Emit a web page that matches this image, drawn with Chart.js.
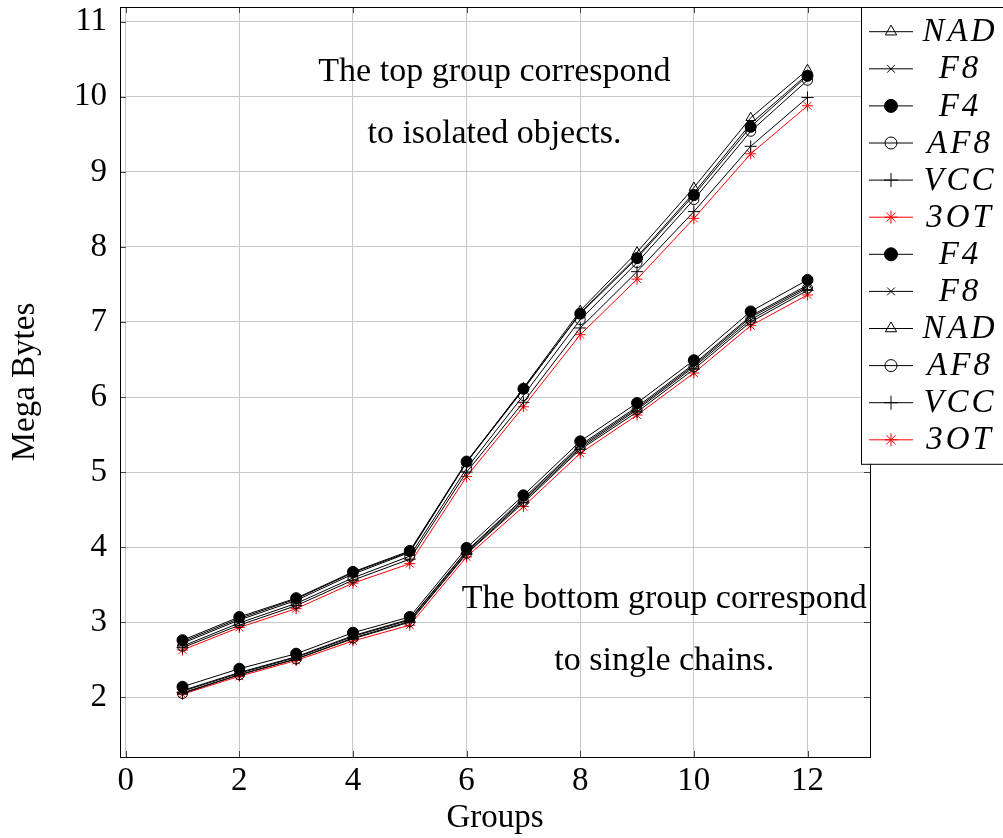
<!DOCTYPE html>
<html>
<head>
<meta charset="utf-8">
<script src="https://cdn.jsdelivr.net/npm/chart.js@4.4.1/dist/chart.umd.min.js"></script>
<style>
  html, body { margin: 0; padding: 0; background: #fff; }
</style>
</head>
<body>
<canvas id="groupsChart" width="1003" height="838"></canvas>
<script>
// x values and ticks
const groups = [1, 2, 3, 4, 5, 6, 7, 8, 9, 10, 11, 12];
const xTicks = [0, 2, 4, 6, 8, 10, 12];
const yTicks = [2, 3, 4, 5, 6, 7, 8, 9, 10, 11];

// top group: isolated objects
const topNAD = [2.72, 3.03, 3.29, 3.64, 3.93, 5.13, 6.12, 7.15, 7.93, 8.79, 9.72, 10.36];
const topF8  = [2.74, 3.05, 3.31, 3.66, 3.94, 5.13, 6.10, 7.12, 7.87, 8.72, 9.64, 10.30];
const topF4  = [2.76, 3.07, 3.32, 3.67, 3.95, 5.14, 6.11, 7.11, 7.85, 8.69, 9.60, 10.28];
const topAF8 = [2.68, 2.99, 3.25, 3.59, 3.88, 5.05, 6.02, 7.03, 7.79, 8.63, 9.54, 10.22];
const topVCC = [2.66, 2.96, 3.22, 3.56, 3.84, 5.00, 5.93, 6.92, 7.67, 8.47, 9.34, 9.99];
const top3OT = [2.63, 2.93, 3.18, 3.52, 3.78, 4.94, 5.87, 6.83, 7.57, 8.38, 9.24, 9.88];

// bottom group: single chains
const botF4  = [2.14, 2.38, 2.58, 2.86, 3.07, 3.99, 4.69, 5.41, 5.92, 6.49, 7.14, 7.56];
const botF8  = [2.09, 2.33, 2.54, 2.82, 3.04, 3.95, 4.65, 5.36, 5.87, 6.44, 7.08, 7.49];
const botNAD = [2.08, 2.32, 2.53, 2.81, 3.03, 3.94, 4.63, 5.34, 5.85, 6.42, 7.06, 7.47];
const botAF8 = [2.05, 2.30, 2.51, 2.79, 3.01, 3.92, 4.61, 5.32, 5.83, 6.40, 7.03, 7.45];
const botVCC = [2.06, 2.30, 2.51, 2.78, 3.00, 3.91, 4.59, 5.30, 5.80, 6.37, 7.00, 7.42];
const bot3OT = [2.04, 2.28, 2.49, 2.75, 2.96, 3.87, 4.54, 5.25, 5.76, 6.32, 6.95, 7.36];

const seriesNames = ['NAD', 'F8', 'F4', 'AF8', 'VCC', '3OT', 'F4', 'F8', 'NAD', 'AF8', 'VCC', '3OT'];
const seriesValues = [topNAD, topF8, topF4, topAF8, topVCC, top3OT, botF4, botF8, botNAD, botAF8, botVCC, bot3OT];

const SERIF = "'Liberation Serif', 'DejaVu Serif', serif";

const markers = {
    NAD: { pointStyle: 'triangle', radius: 5.5, fill: 'rgba(0,0,0,0)' },
    F8:  { pointStyle: 'crossRot', radius: 4.5, fill: 'rgba(0,0,0,0)' },
    F4:  { pointStyle: 'circle', radius: 5.5, fill: '#000' },
    AF8: { pointStyle: 'circle', radius: 5, fill: 'rgba(0,0,0,0)' },
    VCC: { pointStyle: 'cross', radius: 6, fill: 'rgba(0,0,0,0)' },
    '3OT': { pointStyle: 'star', radius: 5.5, fill: 'rgba(0,0,0,0)' }
};

const datasets = seriesNames.map((name, i) => {
    const m = markers[name];
    const col = name === '3OT' ? '#ff0000' : '#000000';
    return {
        label: name,
        data: groups.map((g, j) => ({ x: g, y: seriesValues[i][j] })),
        borderColor: col,
        borderWidth: 1,
        pointStyle: m.pointStyle,
        pointRadius: m.radius,
        pointBackgroundColor: m.fill,
        pointBorderColor: col,
        pointBorderWidth: 1,
        tension: 0,
        fill: false
    };
});

// text notes placed in data coordinates
const notes = [
    { text: 'The top group correspond', x: 6.49, y: 10.33 },
    { text: 'to isolated objects.', x: 6.49, y: 9.50 },
    { text: 'The bottom group correspond', x: 9.48, y: 3.31 },
    { text: 'to single chains.', x: 9.48, y: 2.48 }
];

// scales add room for their edge labels; the plot box is fixed here instead
const noPad = s => { s.paddingTop = 0; s.paddingBottom = 0; s.paddingLeft = 0; s.paddingRight = 0; };

const framePlugin = {
    id: 'frame',
    beforeDatasetsDraw(chart) {
        const { ctx, chartArea: a, scales } = chart;
        ctx.save();
        ctx.strokeStyle = '#444';
        ctx.lineWidth = 1;
        ctx.beginPath();
        xTicks.forEach(v => {
            const px = Math.round(scales.x.getPixelForValue(v)) + 0.5;
            ctx.moveTo(px, a.bottom); ctx.lineTo(px, a.bottom - 6);
            ctx.moveTo(px, a.top); ctx.lineTo(px, a.top + 6);
        });
        yTicks.forEach(v => {
            const py = Math.round(scales.y.getPixelForValue(v)) + 0.5;
            ctx.moveTo(a.left, py); ctx.lineTo(a.left + 6, py);
            ctx.moveTo(a.right, py); ctx.lineTo(a.right - 6, py);
        });
        ctx.stroke();
        ctx.strokeStyle = '#000';
        ctx.strokeRect(a.left + 0.5, a.top + 0.5, a.right - a.left, a.bottom - a.top);
        ctx.restore();
    },
    afterDatasetsDraw(chart) {
        const { ctx, scales } = chart;
        ctx.save();
        ctx.fillStyle = '#000';
        ctx.font = '34px ' + SERIF;
        ctx.textAlign = 'center';
        ctx.textBaseline = 'middle';
        notes.forEach(n => {
            ctx.fillText(n.text, scales.x.getPixelForValue(n.x), scales.y.getPixelForValue(n.y));
        });
        ctx.restore();
    },
    afterDraw(chart) {
        // legend box to the right, overlapping the frame
        const { ctx } = chart;
        const left = 861, top = 7, rowH = 37.1, firstRow = 31.7;
        const bottom = firstRow + rowH * (datasets.length - 1) + 24;
        ctx.save();
        ctx.fillStyle = '#fff';
        ctx.fillRect(left, top, 1003 - left + 5, bottom - top);
        ctx.strokeStyle = '#000';
        ctx.lineWidth = 1;
        ctx.strokeRect(left + 0.5, top + 0.5, 1003 - left + 5, bottom - top);
        datasets.forEach((ds, i) => {
            const y = firstRow + rowH * i;
            ctx.strokeStyle = ds.borderColor;
            ctx.beginPath();
            ctx.moveTo(869, y); ctx.lineTo(913, y);
            ctx.stroke();
            ctx.fillStyle = ds.pointBackgroundColor;
            Chart.helpers.drawPoint(ctx, {
                pointStyle: ds.pointStyle, radius: ds.pointRadius + 1,
                borderWidth: 1, rotation: 0
            }, 891, y);
            ctx.fillStyle = '#000';
            ctx.font = 'italic 33px ' + SERIF;
            ctx.letterSpacing = '3px';
            ctx.textAlign = 'center';
            ctx.textBaseline = 'middle';
            ctx.fillText(ds.label, 960, y + 1);
            ctx.letterSpacing = '0px';
        });
        ctx.restore();
    }
};

new Chart(document.getElementById('groupsChart').getContext('2d'), {
    type: 'line',
    data: { datasets: datasets },
    options: {
        responsive: false,
        devicePixelRatio: 1,
        animation: false,
        layout: { autoPadding: false, padding: { left: 0, right: 133, top: 7, bottom: 0 } },
        plugins: { legend: { display: false }, title: { display: false }, tooltip: { enabled: false } },
        scales: {
            x: {
                type: 'linear',
                min: -0.1,
                max: 13.1,
                afterBuildTicks: s => { s.ticks = xTicks.map(v => ({ value: v })); },
                afterFit: s => { s.height = 81; noPad(s); },
                grid: { color: '#c8c8c8', drawTicks: false },
                border: { display: false },
                ticks: { color: '#000', font: { family: SERIF, size: 33 }, padding: 5, maxRotation: 0 },
                title: { display: true, text: 'Groups', color: '#000', font: { family: SERIF, size: 33 }, padding: 0 }
            },
            y: {
                min: 1.204,
                max: 11.196,
                afterBuildTicks: s => { s.ticks = yTicks.map(v => ({ value: v })); },
                afterFit: s => { s.width = 120; noPad(s); },
                grid: { color: '#c8c8c8', drawTicks: false },
                border: { display: false },
                ticks: { color: '#000', font: { family: SERIF, size: 33 }, padding: 13 },
                title: { display: true, text: 'Mega Bytes', color: '#000', font: { family: SERIF, size: 33 }, padding: { top: 6 } }
            }
        }
    },
    plugins: [framePlugin]
});
</script>
</body>
</html>
